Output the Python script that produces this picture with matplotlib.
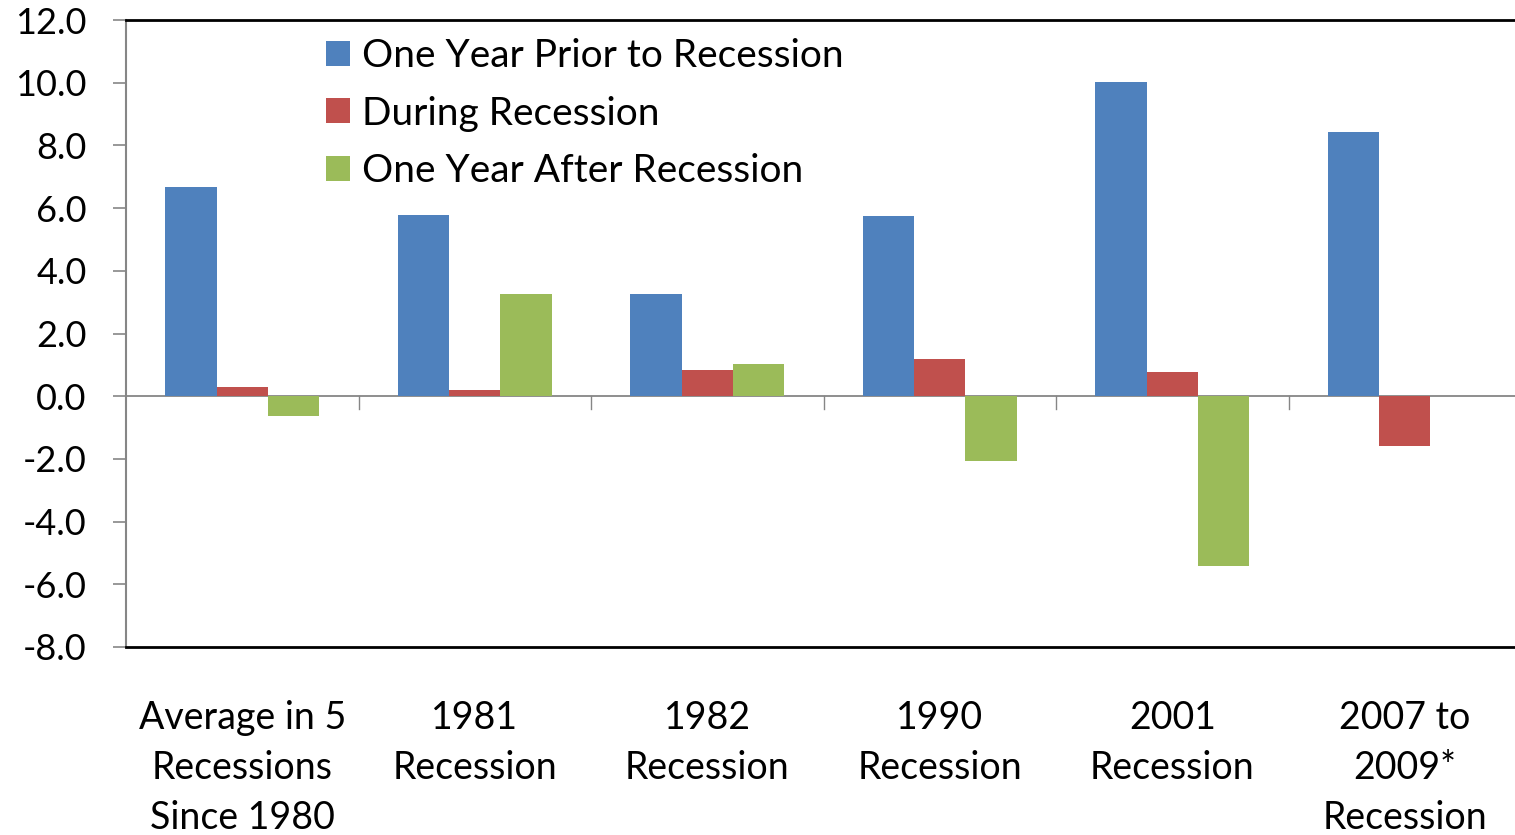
import matplotlib
matplotlib.use("Agg")
import matplotlib.pyplot as plt
import numpy as np

# values
categories = ["Average in 5\nRecessions\nSince 1980", "1981\nRecession", "1982\nRecession",
              "1990\nRecession", "2001\nRecession", "2007 to\n2009*\nRecession"]
prior = [6.67, 5.78, 3.26, 5.75, 10.03, 8.42]
during = [0.28, 0.20, 0.83, 1.18, 0.76, -1.60]
after = [-0.63, 3.26, 1.02, -2.08, -5.43, 0.0]
series_names = ["One Year Prior to Recession", "During Recession", "One Year After Recession"]
y_ticks = [-8, -6, -4, -2, 0, 2, 4, 6, 8, 10, 12]

colors = ["#4F81BD", "#C0504D", "#9BBB59"]
plt.rcParams['font.family'] = ['Lato', 'DejaVu Sans']

W, H = 1515, 835
fig = plt.figure(figsize=(W / 100, H / 100), dpi=100)
ax = fig.add_axes([126 / W, 1 - 647 / H, (1521 - 126) / W, (647 - 20) / H])

x = np.arange(len(categories))
bw = 0.2215
for i, (vals, name) in enumerate(zip([prior, during, after], series_names)):
    ax.bar(x + (i - 1) * bw, vals, bw, color=colors[i], label=name,
           linewidth=0, zorder=2)

ax.set_xlim(-0.5, len(categories) - 0.5)
ax.set_ylim(-8, 12)
ax.set_yticks(y_ticks)
ax.set_yticklabels([f"{v:.1f}" for v in y_ticks], fontsize=26)
ax.tick_params(axis='y', length=9.4, width=1.2, color="#868686", pad=19)

# zero line with category separator ticks
ax.axhline(0, color="#868686", linewidth=1.3, zorder=1)
for b in np.arange(0.5, len(categories) - 0.5, 1):
    ax.plot([b, b], [0, -0.42], color="#868686", linewidth=1.0, zorder=1)

ax.set_xticks(x)
ax.set_xticklabels(categories, fontsize=27, linespacing=1.49)
ax.tick_params(axis='x', length=0, pad=38)

ax.spines['left'].set_color("#868686")
ax.spines['left'].set_linewidth(1.5)
ax.spines['top'].set_color("black")
ax.spines['top'].set_linewidth(2)
ax.spines['bottom'].set_color("black")
ax.spines['bottom'].set_linewidth(2)
ax.spines['right'].set_visible(False)

leg = ax.legend(loc="upper left", bbox_to_anchor=(200 / 1395, 0.971), frameon=False,
                fontsize=28, handlelength=0.62, handleheight=0.62, handletextpad=0.3,
                labelspacing=0.55, borderaxespad=0, borderpad=0)

fig.savefig("out.png", dpi=100)
